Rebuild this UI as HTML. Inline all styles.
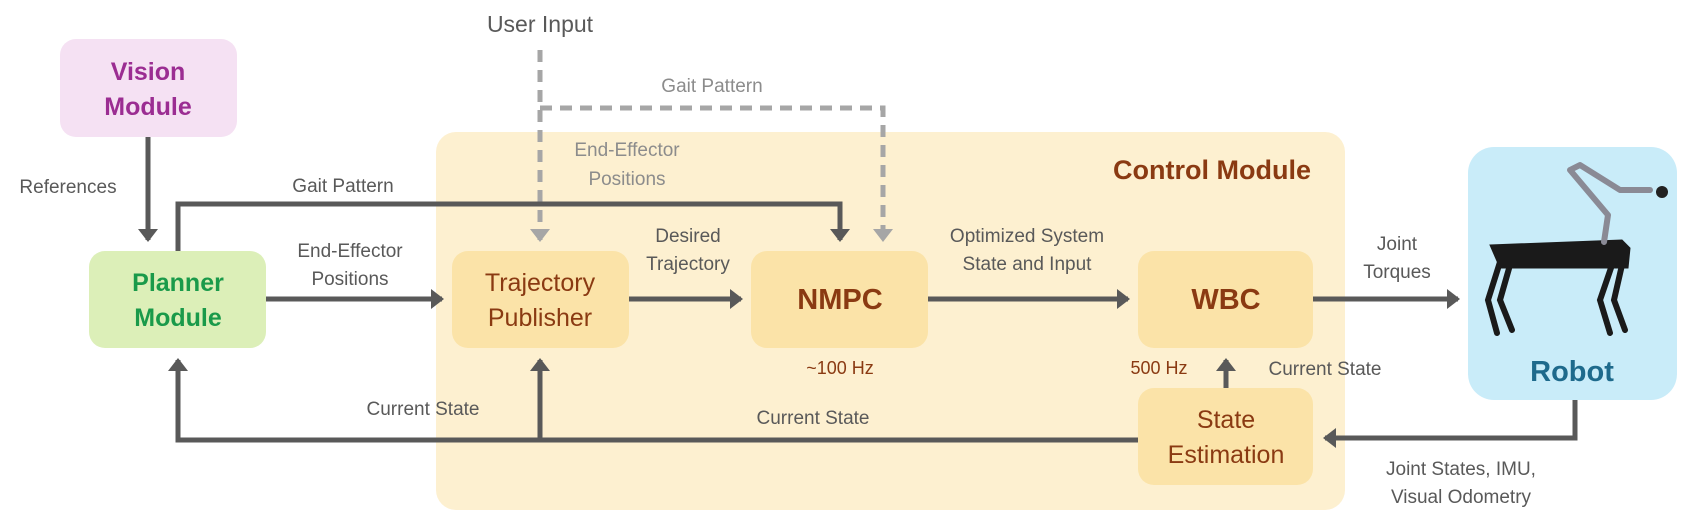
<!DOCTYPE html>
<html><head><meta charset="utf-8"><style>
html,body{margin:0;padding:0;background:#fff}
svg{display:block}
text{font-family:"Liberation Sans",sans-serif}
.l{font-size:19px;fill:#595959}
.g{font-size:19px;fill:#8c8c8c}
.b{fill:#8a3a12}
</style></head><body>
<svg width="1689" height="523" viewBox="0 0 1689 523" xmlns="http://www.w3.org/2000/svg">
<defs>
<marker id="a" markerWidth="4" markerHeight="4" refX="2.2" refY="2" orient="auto" markerUnits="strokeWidth"><path d="M0,0 L2.6,2 L0,4 z" fill="#595959"/></marker>
<marker id="ag" markerWidth="4" markerHeight="4" refX="2.2" refY="2" orient="auto" markerUnits="strokeWidth"><path d="M0,0 L2.6,2 L0,4 z" fill="#a6a6a6"/></marker>
</defs>
<!-- control module -->
<rect x="436" y="132" width="909" height="378" rx="20" fill="#fdf0d0"/>
<text x="1311" y="179" text-anchor="end" font-size="27" font-weight="bold" class="b">Control Module</text>
<!-- vision -->
<rect x="60" y="39" width="177" height="98" rx="16" fill="#f5e1f3"/>
<text x="148" y="80" text-anchor="middle" font-size="25" font-weight="bold" fill="#9b2d92">Vision</text>
<text x="148" y="115" text-anchor="middle" font-size="25" font-weight="bold" fill="#9b2d92">Module</text>
<!-- planner -->
<rect x="89" y="251" width="177" height="97" rx="16" fill="#dcefb8"/>
<text x="178" y="291" text-anchor="middle" font-size="25" font-weight="bold" fill="#1a9a4a">Planner</text>
<text x="178" y="326" text-anchor="middle" font-size="25" font-weight="bold" fill="#1a9a4a">Module</text>
<!-- traj -->
<rect x="452" y="251" width="177" height="97" rx="16" fill="#fbe3a8"/>
<text x="540" y="291" text-anchor="middle" font-size="25" class="b">Trajectory</text>
<text x="540" y="326" text-anchor="middle" font-size="25" class="b">Publisher</text>
<!-- nmpc -->
<rect x="751" y="251" width="177" height="97" rx="16" fill="#fbe3a8"/>
<text x="840" y="309" text-anchor="middle" font-size="29" font-weight="bold" class="b">NMPC</text>
<!-- wbc -->
<rect x="1138" y="251" width="175" height="97" rx="16" fill="#fbe3a8"/>
<text x="1226" y="309" text-anchor="middle" font-size="29" font-weight="bold" class="b">WBC</text>
<!-- state est -->
<rect x="1138" y="388" width="175" height="97" rx="16" fill="#fbe3a8"/>
<text x="1226" y="428" text-anchor="middle" font-size="25" class="b">State</text>
<text x="1226" y="463" text-anchor="middle" font-size="25" class="b">Estimation</text>
<!-- robot -->
<rect x="1468" y="147" width="209" height="253" rx="26" fill="#c9ecf9"/>
<text x="1572" y="381" text-anchor="middle" font-size="29" font-weight="bold" fill="#1e6a8c">Robot</text>
<g fill="#1a1a1a" stroke="#1a1a1a">
<path d="M1490,245 L1622,240 L1630,248 L1628,268 L1500,268 Z"/>
<path d="M1500,262 L1488,300 L1497,333 M1510,265 L1500,300 L1512,330 M1612,265 L1600,300 L1610,333 M1622,265 L1614,300 L1625,330" fill="none" stroke-width="6" stroke-linecap="round"/>
</g>
<path d="M1604,242 L1608,215 L1570,170 L1580,165 L1620,190 L1650,190" fill="none" stroke="#8a8a95" stroke-width="6" stroke-linecap="round" stroke-linejoin="round"/>
<circle cx="1662" cy="192" r="6" fill="#222"/>
<!-- labels -->
<text x="540" y="32" text-anchor="middle" font-size="23" fill="#595959">User Input</text>
<text x="712" y="92" text-anchor="middle" class="g">Gait Pattern</text>
<text x="627" y="156" text-anchor="middle" class="g">End-Effector</text>
<text x="627" y="185" text-anchor="middle" class="g">Positions</text>
<text x="68" y="193" text-anchor="middle" class="l">References</text>
<text x="343" y="192" text-anchor="middle" class="l">Gait Pattern</text>
<text x="350" y="257" text-anchor="middle" class="l">End-Effector</text>
<text x="350" y="285" text-anchor="middle" class="l">Positions</text>
<text x="688" y="242" text-anchor="middle" class="l">Desired</text>
<text x="688" y="270" text-anchor="middle" class="l">Trajectory</text>
<text x="1027" y="242" text-anchor="middle" class="l">Optimized System</text>
<text x="1027" y="270" text-anchor="middle" class="l">State and Input</text>
<text x="1397" y="250" text-anchor="middle" class="l">Joint</text>
<text x="1397" y="278" text-anchor="middle" class="l">Torques</text>
<text x="840" y="374" text-anchor="middle" font-size="18" class="b">~100 Hz</text>
<text x="1159" y="374" text-anchor="middle" font-size="18" class="b">500 Hz</text>
<text x="1325" y="375" text-anchor="middle" class="l">Current State</text>
<text x="423" y="415" text-anchor="middle" class="l">Current State</text>
<text x="813" y="424" text-anchor="middle" class="l">Current State</text>
<text x="1461" y="475" text-anchor="middle" class="l">Joint States, IMU,</text>
<text x="1461" y="503" text-anchor="middle" class="l">Visual Odometry</text>
<!-- dashed -->
<g fill="none" stroke="#a6a6a6" stroke-width="5" stroke-dasharray="12,8">
<path d="M540,50 L540,240" marker-end="url(#ag)"/>
<path d="M540,108 L883,108 L883,240" marker-end="url(#ag)"/>
</g>
<!-- solid arrows -->
<g fill="none" stroke="#595959" stroke-width="5">
<path d="M148,137 L148,240" marker-end="url(#a)"/>
<path d="M178,251 L178,204 L840,204 L840,240" marker-end="url(#a)"/>
<path d="M266,299 L442,299" marker-end="url(#a)"/>
<path d="M629,299 L741,299" marker-end="url(#a)"/>
<path d="M928,299 L1128,299" marker-end="url(#a)"/>
<path d="M1313,299 L1458,299" marker-end="url(#a)"/>
<path d="M1226,388 L1226,360" marker-end="url(#a)"/>
<path d="M1575,400 L1575,438 L1325,438" marker-end="url(#a)"/>
<path d="M1138,440 L178,440 L178,360" marker-end="url(#a)"/>
<path d="M540,440 L540,360" marker-end="url(#a)"/>
</g>
</svg>
</body></html>
